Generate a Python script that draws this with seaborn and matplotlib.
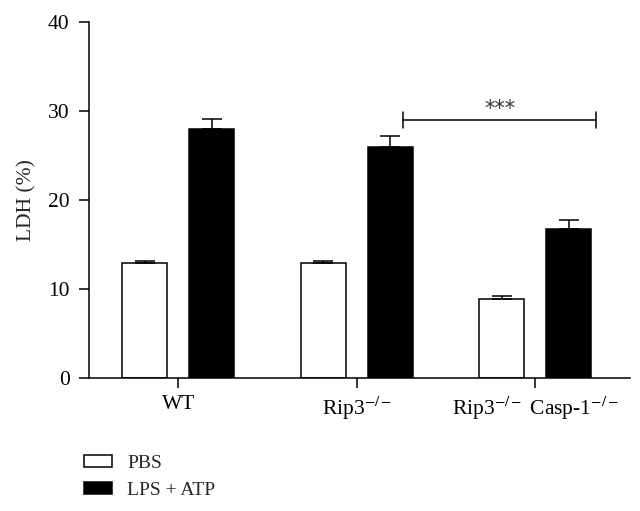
import matplotlib
matplotlib.use('Agg')
import matplotlib.pyplot as plt
import pandas as pd
import seaborn as sns
from matplotlib.patches import Patch

# Data
groups = ["WT", "Rip3$^{-/-}$", "Rip3$^{-/-}$ Casp-1$^{-/-}$"]
treatments = ["PBS", "LPS + ATP"]
pbs_mean = [12.9, 12.9, 8.9]
pbs_err = [0.3, 0.3, 0.3]
lps_mean = [28.0, 26.0, 16.8]
lps_err = [1.1, 1.2, 1.0]

df = pd.DataFrame({
    "group": groups * 2,
    "treatment": [treatments[0]] * 3 + [treatments[1]] * 3,
    "ldh": pbs_mean + lps_mean,
    "err": pbs_err + lps_err,
})

sns.set_style("ticks")
plt.rcParams["font.family"] = ["Liberation Serif", "DejaVu Serif"]
plt.rcParams["mathtext.fontset"] = "stix"

fig = plt.figure(figsize=(6.4, 5.11), dpi=100)
ax = fig.add_axes([0.139, 0.260, 0.845, 0.697])

sns.barplot(data=df, x="group", y="ldh", hue="treatment", order=groups,
            hue_order=treatments, palette=["white", "black"], width=0.75,
            gap=0.328, errorbar=None, edgecolor="black", linewidth=1.1,
            legend=False, ax=ax)

# upper-only error bars, placed at the bar centres seaborn produced
for bars, (name, sub) in zip(ax.containers, df.groupby("treatment", sort=False)):
    xs = [b.get_x() + b.get_width() / 2 for b in bars]
    ys = [b.get_height() for b in bars]
    ax.errorbar(xs, ys, yerr=[[0] * len(ys), list(sub["err"])], fmt="none",
                ecolor="black", elinewidth=1.1, capsize=7.5, capthick=1.1)

# significance bracket
ax.plot([1.26, 2.34], [29.0, 29.0], color="black", lw=1.1)
ax.plot([1.26, 1.26], [28.1, 29.9], color="black", lw=1.1)
ax.plot([2.34, 2.34], [28.1, 29.9], color="black", lw=1.1)
ax.text(1.80, 30.25, "***", ha="center", va="center", fontsize=15,
        family="DejaVu Sans", color="#333333")

ax.set_xlim(-0.5, 2.53)
ax.set_ylim(0, 40)
ax.set_yticks([0, 10, 20, 30, 40])
ax.set_xlabel("")
ax.set_ylabel("LDH (%)", fontsize=15.5, labelpad=8)
ax.tick_params(axis="both", labelsize=15.5, length=7, width=1.1, color="black",
               labelcolor="black", direction="out")
ax.tick_params(axis="y", pad=7)
ax.tick_params(axis="x", pad=5)
for s in ["left", "bottom"]:
    ax.spines[s].set_linewidth(1.1)
    ax.spines[s].set_color("black")
sns.despine(ax=ax)

handles = [Patch(facecolor="white", edgecolor="black", linewidth=1.1),
           Patch(facecolor="black", edgecolor="black", linewidth=1.1)]
fig.legend(handles, treatments, loc="upper left", bbox_to_anchor=(0.132, 0.11),
           frameon=False, fontsize=14, handlelength=1.4, handleheight=0.62,
           handletextpad=0.8, labelspacing=0.5, borderpad=0, borderaxespad=0)

fig.savefig("out.png", dpi=100)
